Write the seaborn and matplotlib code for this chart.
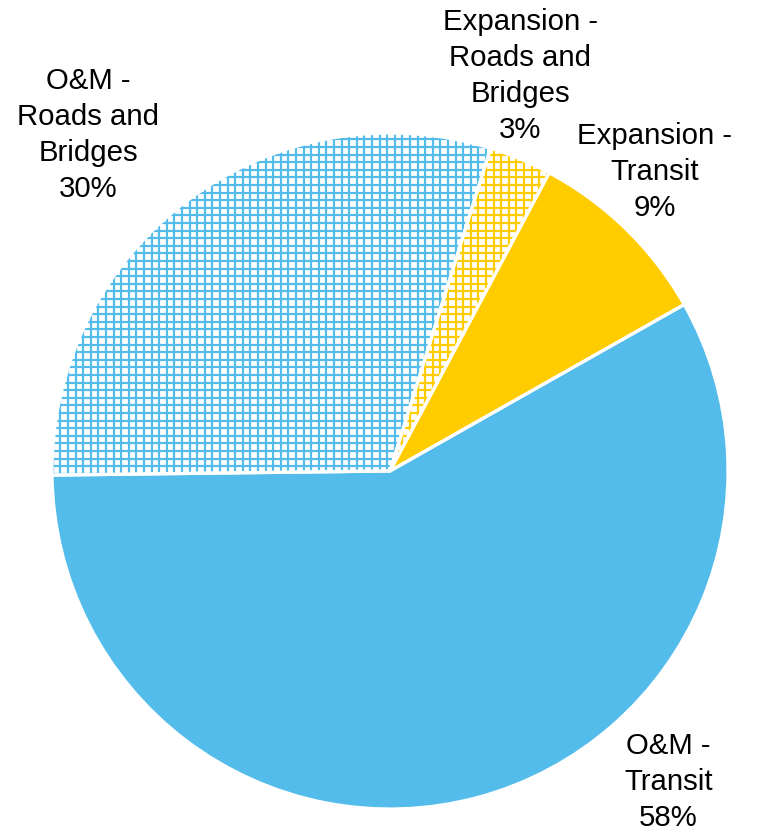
import matplotlib
matplotlib.use("Agg")
import matplotlib.pyplot as plt
import numpy as np
import seaborn as sns

sns.set_style("white")
plt.rcParams['font.family'] = ['Liberation Sans', 'DejaVu Sans']

# Data (counter-clockwise from start angle)
categories = ["Expansion -\nTransit", "Expansion -\nRoads and\nBridges",
              "O&M -\nRoads and\nBridges", "O&M -\nTransit"]
values = [9, 3, 30, 58]
colors = ["#FFCC00", "#FFCC00", "#53BCEB", "#53BCEB"]
hatched = [False, True, True, False]

# Label placement (data units, pie radius = 1)
label_pos = [(0.784, 0.885), (0.385, 1.169), (-0.893, 0.994), (0.824, -0.920)]

DPI = 88
fig = plt.figure(figsize=(761 / DPI, 834 / DPI), dpi=DPI)
cx, cy, r = 390, 471, 338
ax = fig.add_axes([(cx - r) / 761, (834 - cy - r) / 834, 2 * r / 761, 2 * r / 834])

start = 29.5
wedges, _ = ax.pie(values, startangle=start, counterclock=True,
                   colors=colors, wedgeprops=dict(linewidth=0))

# grid hatch drawn as clipped lines
step = 7.6 / r
grid = np.arange(-1.2, 1.2 + step, step)
for w, c, h in zip(wedges, colors, hatched):
    if h:
        w.set_facecolor("white")
        lw = 2.2 * 72 / DPI
        vl = ax.vlines(grid, -1.1, 1.1, colors=c, linewidth=lw, zorder=2)
        hl = ax.hlines(grid, -1.1, 1.1, colors=c, linewidth=lw, zorder=2)
        vl.set_clip_path(w)
        hl.set_clip_path(w)

# white separators layer
wedges2, _ = ax.pie(values, startangle=start, counterclock=True,
                    colors=["none"] * len(values),
                    wedgeprops=dict(edgecolor="white", linewidth=2.6))
for w in wedges2:
    w.set_facecolor("none")
    w.set_zorder(3)

total = sum(values)
for cat, v, (x, y) in zip(categories, values, label_pos):
    ax.text(x, y, f"{cat}\n{round(100 * v / total)}%", ha="center", va="center",
            fontsize=24, linespacing=1.36, color="black")

ax.set_xlim(-1, 1)
ax.set_ylim(-1, 1)
ax.set_aspect("equal")
ax.axis("off")
fig.savefig("out.png", dpi=DPI)
